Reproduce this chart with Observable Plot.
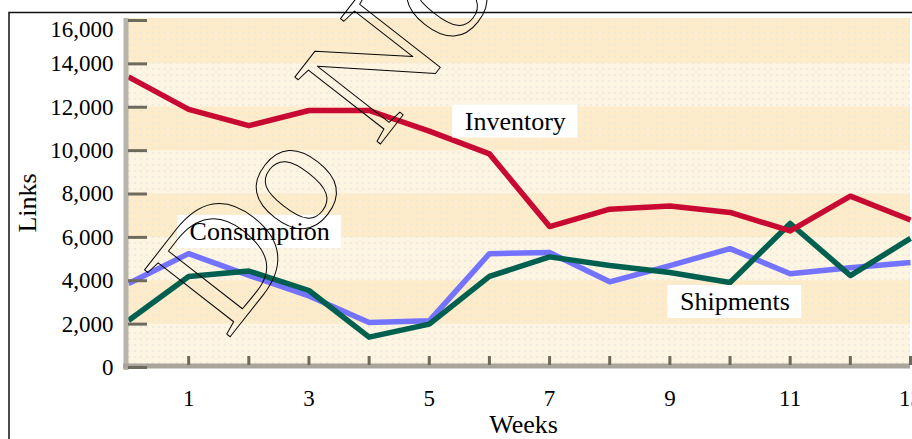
<!DOCTYPE html>
<html>
<head>
<meta charset="utf-8">
<script src="https://cdn.jsdelivr.net/npm/d3@7"></script>
<script src="https://cdn.jsdelivr.net/npm/@observablehq/plot@0.6"></script>
<style>
  body { margin: 0; background: #fff; }
</style>
</head>
<body>
<div id="chart"></div>
<script>
// ---- data ----
const weeks = [0, 1, 2, 3, 4, 5, 6, 7, 8, 9, 10, 11, 12, 13];
const inventory   = [13400, 11900, 11150, 11850, 11850, 10900, 9850, 6500, 7300, 7450, 7150, 6300, 7900, 6800];
const consumption = [3870, 5250, 4250, 3300, 2070, 2150, 5250, 5300, 3950, 4700, 5480, 4320, 4600, 4840];
const shipments   = [2170, 4200, 4450, 3550, 1400, 2000, 4200, 5100, 4700, 4380, 3920, 6640, 4240, 5950];

const seriesNames  = ["Consumption", "Shipments", "Inventory"];
const seriesColors = ["#7373ff", "#00604f", "#c80a32"];

const yTickValues   = [0, 2000, 4000, 6000, 8000, 10000, 12000, 14000, 16000];
const yLabelValues  = [0, 2000, 4000, 6000, 8000, 10000, 12000, 14000];
const yTopLabel     = [16000];
const xTickMarks    = [1, 2, 3, 4, 5, 6, 7, 8, 9, 10, 11, 12, 13];
const xTickLabels   = [1, 3, 5, 7, 9, 11, 13];
const bandStarts    = [0, 2000, 4000, 6000, 8000, 10000, 12000, 14000];
const bandColors    = ["#fdf4e2", "#fdebc9"];

const labelTexts  = ["Inventory", "Consumption", "Shipments"];
const labelWeeks  = [6.43, 2.18, 10.08];
const labelValues = [11340, 6250, 3020];

const xTitle = "Weeks";
const yTitle = "Links";

const watermarkText  = ["Do Not Copy"];
const watermarkWeek  = 1.64;
const watermarkValue = 1250;

// ---- tables built from arrays ----
const series = [consumption, shipments, inventory];
const rows = series.flatMap((vals, s) => weeks.map((w, i) => ({week: w, value: vals[i], series: seriesNames[s]})));
const labels = labelTexts.map((t, i) => ({text: t, week: labelWeeks[i], value: labelValues[i]}));
const wMin = d3.min(weeks), wMax = d3.max(weeks);

const FONT = "'Liberation Serif', 'Times New Roman', serif";
const LABEL_SIZE = 26;

// custom mark: dotted screen texture over the plot background
function dotTexture(index, scales, values, dims) {
  const g = d3.create("svg:g").attr("aria-label", "texture");
  const p = g.append("defs").append("pattern")
    .attr("id", "dotscreen").attr("width", 6).attr("height", 6)
    .attr("patternUnits", "userSpaceOnUse");
  p.append("rect").attr("x", 2).attr("y", 2).attr("width", 2).attr("height", 2)
    .attr("fill", "#ebe8dc").attr("fill-opacity", 0.75);
  g.append("rect")
    .attr("x", dims.marginLeft).attr("y", dims.marginTop - 2)
    .attr("width", dims.width - dims.marginLeft - dims.marginRight)
    .attr("height", dims.height - dims.marginTop - dims.marginBottom + 2)
    .attr("fill", "url(#dotscreen)");
  return g.node();
}

// custom mark: white boxes behind the series labels, sized from the measured text
const measureCtx = document.createElement("canvas").getContext("2d");
measureCtx.font = `${LABEL_SIZE}px 'Liberation Serif'`;
function labelBoxes(index, scales) {
  const g = d3.create("svg:g").attr("aria-label", "label boxes");
  for (const d of labels) {
    const w = measureCtx.measureText(d.text).width;
    const cx = scales.x(d.week), cy = scales.y(d.value);
    g.append("rect")
      .attr("x", cx - w / 2 - 12)
      .attr("y", cy - 16.5)
      .attr("width", w + 24)
      .attr("height", 33)
      .attr("fill", "#fff");
  }
  return g.node();
}

const chart = Plot.plot({
  width: 912,
  height: 439,
  marginLeft: 128,
  marginRight: 2,
  marginTop: 20,
  marginBottom: 72,
  x: {domain: [wMin, wMax], axis: null, label: null},
  y: {domain: [0, 16000], axis: null, label: null},
  color: {domain: seriesNames, range: seriesColors},
  style: {fontFamily: FONT, fontSize: "23px", color: "#000", background: "#fff", overflow: "visible"},
  marks: [
    // background bands
    Plot.rect(bandStarts, {
      x1: () => wMin, x2: () => wMax,
      y1: d => d, y2: d => d + 2000,
      fill: (d, i) => bandColors[i % 2],
      insetTop: -2
    }),
    dotTexture,
    // outer frame of the figure
    Plot.frame({stroke: "#111", strokeWidth: 1.5, insetLeft: -119.5, insetTop: -8, insetRight: -20, insetBottom: -90}),
    // series lines
    Plot.line(rows, {x: "week", y: "value", z: "series", stroke: "series", strokeWidth: 5.5, strokeLinejoin: "round", strokeLinecap: "butt"}),
    // axis bars
    Plot.ruleX([wMin], {stroke: "#b6b4ab", strokeWidth: 5, dx: -2.5, insetTop: -2, insetBottom: -3}),
    Plot.ruleY([0], {stroke: "#a9a59b", strokeWidth: 5, dy: -1.5, insetLeft: -5}),
    // inward tick marks
    Plot.tickY(yTickValues, {y: d => d, stroke: "#6e6a5e", strokeWidth: 3, insetRight: 763}),
    Plot.tickX(xTickMarks, {x: d => d, stroke: "#6e6a5e", strokeWidth: 3, insetTop: 338, dy: -2}),
    // tick labels
    Plot.axisY(yLabelValues, {tickSize: 0, tickPadding: 15, tickFormat: d3.format(","), fontSize: 23}),
    Plot.axisY(yTopLabel, {tickSize: 0, tickPadding: 15, tickFormat: d3.format(","), fontSize: 23, dy: 9}),
    Plot.axisX(xTickLabels, {tickSize: 0, tickPadding: 22, fontSize: 23}),
    // axis titles
    Plot.text([xTitle], {frameAnchor: "bottom", text: d => d, fontSize: 26, lineAnchor: "bottom", dy: 65, dx: 4}),
    Plot.text([yTitle], {frameAnchor: "left", text: d => d, fontSize: 26, rotate: -90, textAnchor: "middle", lineAnchor: "bottom", dx: -93, dy: 9}),
    // series labels with white boxes
    labelBoxes,
    Plot.text(labels, {x: "week", y: "value", text: "text", fontSize: LABEL_SIZE, fill: "#000"}),
    // watermark
    Plot.text(watermarkText, {
      x: () => watermarkWeek, y: () => watermarkValue, text: d => d,
      fontSize: 166, fill: "none", stroke: "#000", strokeWidth: 1,
      rotate: -52, textAnchor: "start", lineAnchor: "bottom"
    })
  ]
});

document.getElementById("chart").append(chart);
</script>
</body>
</html>
